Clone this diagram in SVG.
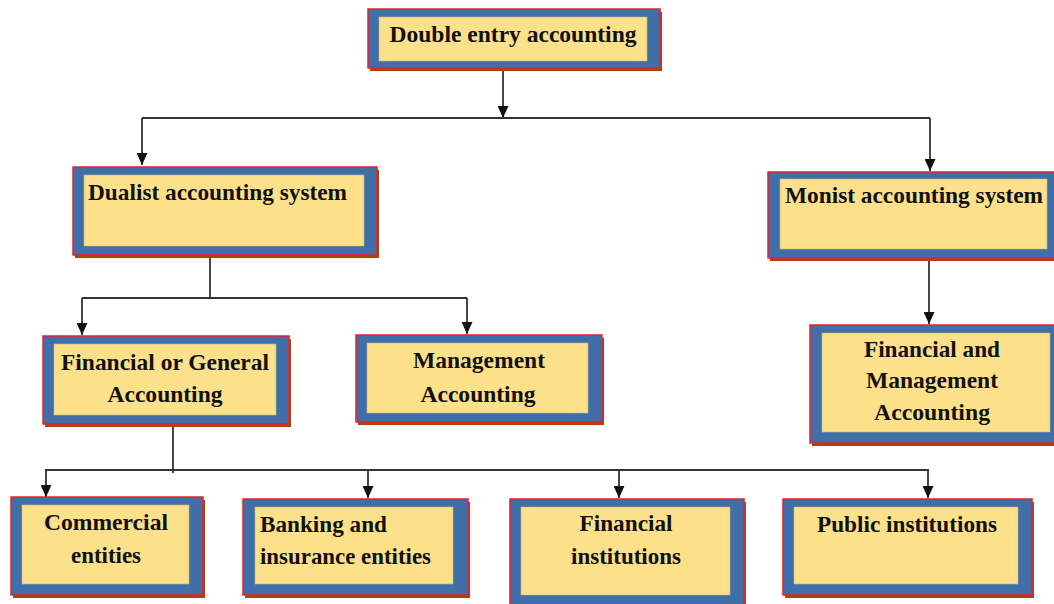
<svg xmlns="http://www.w3.org/2000/svg" width="1054" height="604" viewBox="0 0 1054 604">
<style>
.shadow{fill:#A3470C;}
.outer{fill:#3F6EA8;stroke:#E8222A;stroke-width:1.5;}
.inner{fill:#FDE08A;stroke:#C9B77A;stroke-width:0.6;}
.t{font-family:"Liberation Serif","Times New Roman",serif;font-weight:bold;font-size:24px;fill:#111;}
.c{text-anchor:middle;}
.ln{fill:none;stroke:#333;stroke-width:1.8;}
</style>
<defs>
<marker id="arr" viewBox="0 0 12 11" refX="12" refY="5.5" markerWidth="12" markerHeight="11" markerUnits="userSpaceOnUse" orient="auto">
<path d="M0,0 L12,5.5 L0,11 z" fill="#111"/>
</marker>
</defs>
<rect width="1054" height="604" fill="#fff"/>
<g id="connectors">
<line class="ln" x1="503" y1="68" x2="503" y2="118" marker-end="url(#arr)"/>
<line class="ln" x1="142" y1="118" x2="930" y2="118"/>
<line class="ln" x1="142" y1="118" x2="142" y2="165" marker-end="url(#arr)"/>
<line class="ln" x1="930" y1="118" x2="930" y2="171" marker-end="url(#arr)"/>
<line class="ln" x1="210" y1="258" x2="210" y2="298"/>
<line class="ln" x1="82" y1="298" x2="467" y2="298"/>
<line class="ln" x1="82" y1="298" x2="82" y2="335" marker-end="url(#arr)"/>
<line class="ln" x1="467" y1="298" x2="467" y2="334" marker-end="url(#arr)"/>
<line class="ln" x1="929" y1="258" x2="929" y2="324" marker-end="url(#arr)"/>
<line class="ln" x1="173" y1="424" x2="173" y2="473"/>
<line class="ln" x1="45" y1="470" x2="929" y2="470"/>
<line class="ln" x1="46" y1="470" x2="46" y2="497" marker-end="url(#arr)"/>
<line class="ln" x1="368" y1="470" x2="368" y2="498" marker-end="url(#arr)"/>
<line class="ln" x1="619" y1="470" x2="619" y2="498" marker-end="url(#arr)"/>
<line class="ln" x1="928" y1="470" x2="928" y2="498" marker-end="url(#arr)"/>
</g>
<g id="n-double">
<rect class="shadow" x="370" y="12" width="292" height="59"/>
<rect class="outer" x="368" y="9" width="292" height="59"/>
<rect class="inner" x="379" y="17" width="268" height="44"/>
<text class="t c" x="513" y="42" textLength="247" lengthAdjust="spacingAndGlyphs">Double entry accounting</text>
</g>
<g id="n-dualist">
<rect class="shadow" x="75" y="170" width="304" height="88"/>
<rect class="outer" x="73" y="167" width="304" height="88"/>
<rect class="inner" x="84" y="175" width="280" height="71"/>
<text class="t" x="88" y="200" textLength="259" lengthAdjust="spacingAndGlyphs">Dualist accounting system</text>
</g>
<g id="n-monist">
<rect class="shadow" x="770" y="175" width="292" height="86"/>
<rect class="outer" x="768" y="172" width="292" height="86"/>
<rect class="inner" x="780" y="179" width="267" height="70"/>
<text class="t" x="785" y="203" textLength="258" lengthAdjust="spacingAndGlyphs">Monist accounting system</text>
</g>
<g id="n-fingen">
<rect class="shadow" x="45" y="339" width="246" height="88"/>
<rect class="outer" x="43" y="336" width="246" height="88"/>
<rect class="inner" x="54" y="344" width="222" height="71"/>
<text class="t c" x="165" y="370" textLength="208" lengthAdjust="spacingAndGlyphs">Financial or General</text>
<text class="t c" x="165" y="402" textLength="115" lengthAdjust="spacingAndGlyphs">Accounting</text>
</g>
<g id="n-mgmt">
<rect class="shadow" x="358" y="338" width="246" height="87"/>
<rect class="outer" x="356" y="335" width="246" height="87"/>
<rect class="inner" x="367" y="343" width="221" height="70"/>
<text class="t c" x="479" y="368" textLength="132" lengthAdjust="spacingAndGlyphs">Management</text>
<text class="t c" x="478" y="402" textLength="115" lengthAdjust="spacingAndGlyphs">Accounting</text>
</g>
<g id="n-finmgmt">
<rect class="shadow" x="812" y="328" width="250" height="118"/>
<rect class="outer" x="810" y="325" width="250" height="118"/>
<rect class="inner" x="822" y="333" width="228" height="99"/>
<text class="t c" x="932" y="357" textLength="136" lengthAdjust="spacingAndGlyphs">Financial and</text>
<text class="t c" x="932" y="388" textLength="132" lengthAdjust="spacingAndGlyphs">Management</text>
<text class="t c" x="932" y="420" textLength="116" lengthAdjust="spacingAndGlyphs">Accounting</text>
</g>
<g id="n-commercial">
<rect class="shadow" x="13" y="500" width="192" height="98"/>
<rect class="outer" x="11" y="497" width="192" height="98"/>
<rect class="inner" x="22" y="505" width="167" height="79"/>
<text class="t c" x="106" y="530" textLength="124" lengthAdjust="spacingAndGlyphs">Commercial</text>
<text class="t c" x="106" y="563" textLength="70" lengthAdjust="spacingAndGlyphs">entities</text>
</g>
<g id="n-banking">
<rect class="shadow" x="245" y="502" width="225" height="96"/>
<rect class="outer" x="243" y="499" width="225" height="96"/>
<rect class="inner" x="255" y="507" width="198" height="77"/>
<text class="t" x="260" y="532" textLength="127" lengthAdjust="spacingAndGlyphs">Banking and</text>
<text class="t" x="260" y="564" textLength="171" lengthAdjust="spacingAndGlyphs">insurance entities</text>
</g>
<g id="n-fininst">
<rect class="shadow" x="512" y="502" width="234" height="106"/>
<rect class="outer" x="510" y="499" width="234" height="106"/>
<rect class="inner" x="521" y="507" width="209" height="88"/>
<text class="t c" x="626" y="531" textLength="93" lengthAdjust="spacingAndGlyphs">Financial</text>
<text class="t c" x="626" y="564" textLength="110" lengthAdjust="spacingAndGlyphs">institutions</text>
</g>
<g id="n-public">
<rect class="shadow" x="785" y="502" width="249" height="96"/>
<rect class="outer" x="783" y="499" width="249" height="96"/>
<rect class="inner" x="794" y="507" width="224" height="77"/>
<text class="t c" x="907" y="532" textLength="180" lengthAdjust="spacingAndGlyphs">Public institutions</text>
</g>
</svg>
